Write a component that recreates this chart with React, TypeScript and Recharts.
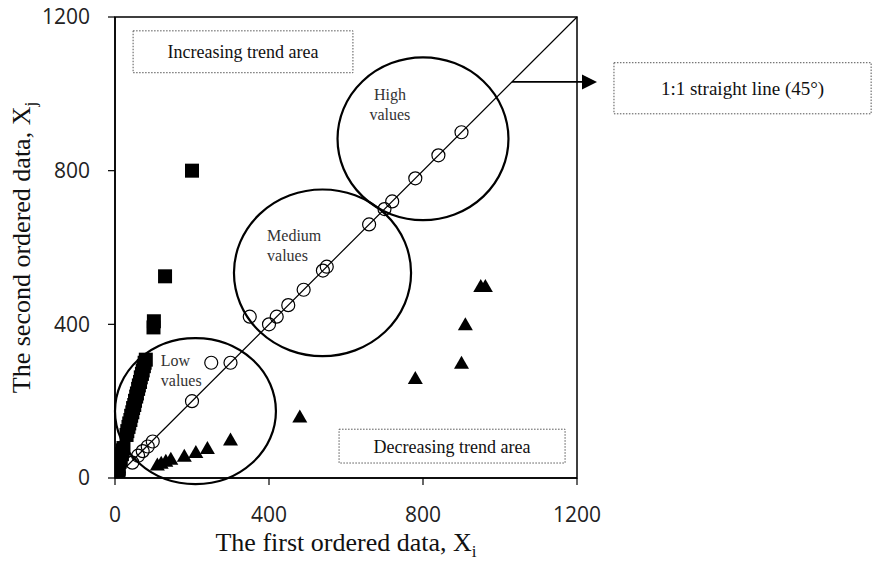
import { ScatterChart, Scatter, XAxis, YAxis, ReferenceArea, ReferenceLine, ReferenceDot } from 'recharts'

const xTicks = [0, 400, 800, 1200]
const yTicks = [0, 400, 800, 1200]

// pairs lying on / near the 1:1 line (open circles)
const nearLine: [number, number][] = [
  [10, 10], [45, 40], [60, 58], [72, 70], [85, 82], [98, 95],
  [200, 200], [250, 300], [300, 300], [350, 420], [400, 400], [420, 420],
  [450, 450], [490, 490], [540, 540], [550, 550], [660, 660], [700, 700],
  [720, 720], [780, 780], [840, 840], [900, 900],
]

// pairs above the line (filled squares)
const aboveLine: [number, number][] = [
  [8, 18], [10, 30], [12, 42], [15, 52], [18, 62], [20, 72], [22, 78],
  [30, 112], [32, 122], [35, 133], [37, 142], [40, 151], [42, 162],
  [45, 171], [47, 182], [50, 190], [52, 201], [55, 212], [57, 220],
  [60, 232], [62, 241], [65, 250], [67, 262], [70, 271], [72, 280],
  [75, 291], [77, 300], [80, 308],
  [100, 392], [101, 408], [130, 525], [200, 800],
]

// pairs below the line (filled triangles)
const belowLine: [number, number][] = [
  [110, 35], [120, 40], [132, 45], [145, 50], [180, 58], [210, 68],
  [240, 78], [300, 100], [480, 160], [780, 260], [900, 300], [910, 400],
  [950, 500], [962, 500],
]

// value groups drawn as ellipses: [x1, x2, y1, y2]
const groups: { lines: string[]; box: number[]; at: number[]; anchor: 'start' | 'middle' }[] = [
  { lines: ['Low', 'values'], box: [0, 418, -16, 364], at: [119, 291], anchor: 'start' },
  { lines: ['Medium', 'values'], box: [309, 769, 317, 751], at: [395, 616], anchor: 'start' },
  { lines: ['High', 'values'], box: [578, 1022, 671, 1095], at: [714, 984], anchor: 'middle' },
]

const toPoints = (pairs: [number, number][]) => pairs.map(([x, y]) => ({ x, y }))

const serif = 'Liberation Serif'

const OpenCircle = (p: any) => (
  <circle cx={p.cx} cy={p.cy} r={6.5} fill="none" stroke="#000" strokeWidth={1.2} />
)
const Square = (p: any) => <rect x={p.cx - 7} y={p.cy - 7} width={14} height={14} fill="#000" />
const Triangle = (p: any) => (
  <polygon points={`${p.cx},${p.cy - 7} ${p.cx + 7.5},${p.cy + 6} ${p.cx - 7.5},${p.cy + 6}`} fill="#000" />
)

const Ellipse = (p: any) => (
  <ellipse
    cx={p.x + p.width / 2}
    cy={p.y + p.height / 2}
    rx={p.width / 2}
    ry={p.height / 2}
    fill="none"
    stroke="#000"
    strokeWidth={2.2}
  />
)

const Arrow = (p: any) => (
  <g>
    <line x1={p.x1} y1={p.y1} x2={p.x2 - 12} y2={p.y2} stroke="#000" strokeWidth={1.6} />
    <polygon points={`${p.x2},${p.y2} ${p.x2 - 15},${p.y2 - 7.5} ${p.x2 - 15},${p.y2 + 7.5}`} fill="#000" />
  </g>
)

const XTitle = ({ viewBox }: any) => (
  <text x={viewBox.x + viewBox.width / 2} y={551} textAnchor="middle" fontFamily={serif} fontSize={26} fill="#111">
    The first ordered data, X<tspan dy={6} fontSize={17}>i</tspan>
  </text>
)

const YTitle = ({ viewBox }: any) => {
  const cx = 30
  const cy = viewBox.y + viewBox.height / 2
  return (
    <text x={cx} y={cy} transform={`rotate(-90 ${cx} ${cy})`} textAnchor="middle" fontFamily={serif} fontSize={26} fill="#111">
      The second ordered data, X<tspan dy={6} fontSize={17}>j</tspan>
    </text>
  )
}

const boxStyle = { fill: '#fff', fillOpacity: 1, stroke: '#555', strokeWidth: 1, strokeDasharray: '1.5 1.5' }
const boxLabel = (value: string, size: number) => ({
  value,
  position: 'center' as const,
  fontFamily: serif,
  fontSize: size,
  fill: '#111',
})

export default function App() {
  return (
    <div style={{ position: 'absolute', left: 0, top: 0, background: '#fff' }}>
      <ScatterChart width={872} height={562} margin={{ top: 17, right: 295, bottom: 24, left: 0 }}>
        <XAxis
          type="number"
          dataKey="x"
          domain={[0, 1200]}
          ticks={xTicks}
          allowDataOverflow
          height={60}
          tickSize={7}
          tickMargin={22}
          axisLine={{ stroke: '#000', strokeWidth: 1.5 }}
          tickLine={{ stroke: '#000', strokeWidth: 1.2 }}
          tick={{ fontFamily: 'Open Sans', fontSize: 21, fill: '#222' }}
          label={{ content: XTitle }}
        />
        <YAxis
          type="number"
          dataKey="y"
          domain={[0, 1200]}
          ticks={yTicks}
          allowDataOverflow
          width={115}
          tickSize={7}
          tickMargin={18}
          axisLine={{ stroke: '#000', strokeWidth: 1.5 }}
          tickLine={{ stroke: '#000', strokeWidth: 1.2 }}
          tick={{ fontFamily: 'Open Sans', fontSize: 21, fill: '#222' }}
          label={{ content: YTitle }}
        />

        {/* plot frame */}
        <ReferenceArea x1={0} x2={1200} y1={0} y2={1200} fill="none" stroke="#000" strokeWidth={1.5} ifOverflow="visible" />

        <ReferenceArea x1={47} x2={618} y1={1055} y2={1164} {...boxStyle} label={boxLabel('Increasing trend area', 18)} />
        <ReferenceArea x1={582} x2={1169} y1={39} y2={127} {...boxStyle} label={boxLabel('Decreasing trend area', 18)} />
        <ReferenceArea
          x1={1296}
          x2={1964}
          y1={948}
          y2={1081}
          ifOverflow="visible"
          {...boxStyle}
          label={boxLabel('1:1 straight line (45°)', 19)}
        />

        {groups.map((g, i) => (
          <ReferenceArea
            key={'g' + i}
            x1={g.box[0]}
            x2={g.box[1]}
            y1={g.box[2]}
            y2={g.box[3]}
            ifOverflow="visible"
            shape={Ellipse}
          />
        ))}
        {groups.map((g, i) => (
          <ReferenceDot
            key={'t' + i}
            x={g.at[0]}
            y={g.at[1]}
            r={0}
            ifOverflow="visible"
            shape={(p: any) => (
              <text x={p.cx} y={p.cy} textAnchor={g.anchor} fontFamily={serif} fontSize={16} fill="#333">
                {g.lines.map((t, k) => (
                  <tspan key={k} x={p.cx} dy={k === 0 ? 0 : 20}>
                    {t}
                  </tspan>
                ))}
              </text>
            )}
          />
        ))}

        <ReferenceLine segment={[{ x: 0, y: 0 }, { x: 1200, y: 1200 }]} stroke="#000" strokeWidth={1.2} />
        <ReferenceLine segment={[{ x: 1031, y: 1031 }, { x: 1252, y: 1031 }]} ifOverflow="visible" shape={Arrow} />

        <Scatter data={toPoints(aboveLine)} shape={Square} isAnimationActive={false} />
        <Scatter data={toPoints(belowLine)} shape={Triangle} isAnimationActive={false} />
        <Scatter data={toPoints(nearLine)} shape={OpenCircle} isAnimationActive={false} />
      </ScatterChart>
    </div>
  )
}
